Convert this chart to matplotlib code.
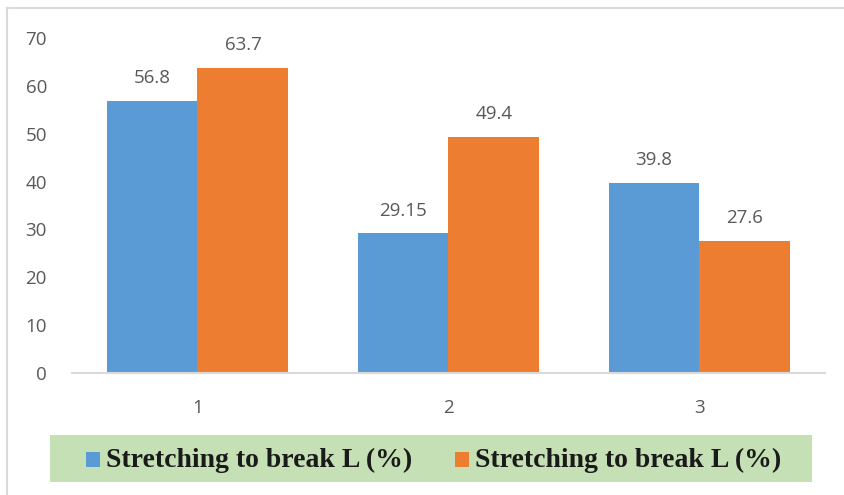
import matplotlib.pyplot as plt
from matplotlib.patches import Rectangle
from matplotlib.lines import Line2D
import numpy as np

categories = ['1', '2', '3']
series_names = ['Stretching to break L (%)', 'Stretching to break L (%)']
series_a = [56.8, 29.15, 39.8]
series_b = [63.7, 49.4, 27.6]
colors = ['#5B9BD5', '#ED7D31']

fig = plt.figure(figsize=(8.45, 4.95), dpi=100)
ax = fig.add_axes([72 / 845, 1 - 373 / 495, 753 / 845, 335 / 495])

x = np.arange(len(categories))
w = 0.3625
bars_a = ax.bar(x - w / 2, series_a, w, color=colors[0])
bars_b = ax.bar(x + w / 2, series_b, w, color=colors[1])

tick_font = dict(family='Open Sans', size=13.5, color='#595959')
for bars in (bars_a, bars_b):
    ax.bar_label(bars, fmt='%g', padding=10, **tick_font)

ax.set_xlim(-0.5, 2.5)
ax.set_ylim(0, 70)
ax.set_yticks(range(0, 71, 10))
ax.set_xticks(x)
ax.set_xticklabels(categories)
for lab in ax.get_xticklabels() + ax.get_yticklabels():
    lab.set_fontfamily('Open Sans')
    lab.set_fontsize(13.5)
    lab.set_color('#595959')
ax.tick_params(axis='both', length=0)
ax.tick_params(axis='y', pad=18)
ax.tick_params(axis='x', pad=19)
for side in ('left', 'right', 'top'):
    ax.spines[side].set_visible(False)
ax.spines['bottom'].set_color('#D9D9D9')
ax.spines['bottom'].set_linewidth(1.5)

# outer chart frame (left and top edges only are in view)
fw, fh = 845, 495
fig.add_artist(Line2D([7.5 / fw, 7.5 / fw], [0, 1 - 8 / fh], color='#D9D9D9', lw=1.5))
fig.add_artist(Line2D([7.5 / fw, 1], [1 - 8 / fh, 1 - 8 / fh], color='#D9D9D9', lw=1.5))

# legend band
fig.add_artist(Rectangle((50 / fw, 1 - 482 / fh), 762 / fw, 47 / fh,
                         facecolor='#C5E0B4', edgecolor='none'))
marker_x = [86, 455]
for mx, name, c in zip(marker_x, series_names, colors):
    fig.add_artist(Rectangle((mx / fw, 1 - 467 / fh), 14 / fw, 15 / fh,
                             facecolor=c, edgecolor='none'))
    fig.text((mx + 20) / fw, 1 - 460 / fh, name, family='Liberation Serif',
             weight='bold', size=20, color='#1a1a1a', va='center', ha='left')

fig.savefig('out.png', dpi=100)
